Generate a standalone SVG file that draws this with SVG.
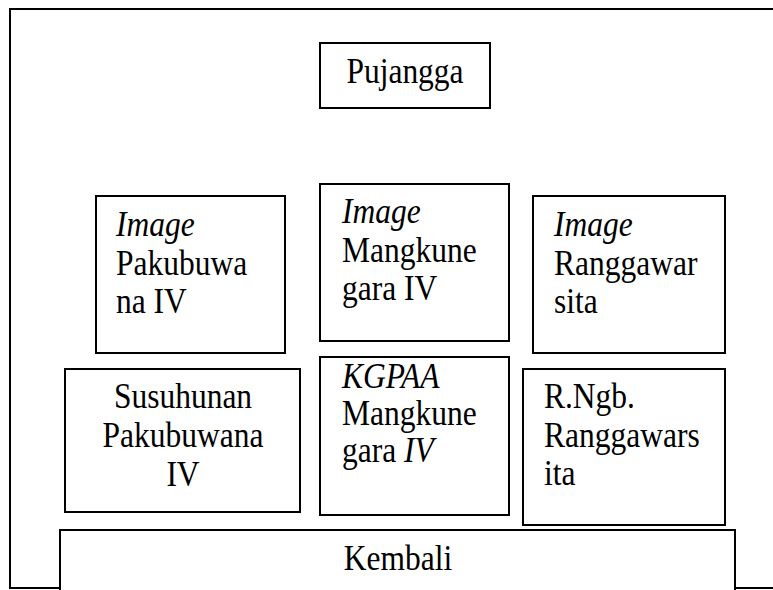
<svg xmlns="http://www.w3.org/2000/svg" width="773" height="590" viewBox="0 0 773 590">
  <style>
    .box { fill: #fff; stroke: #000; stroke-width: 2; }
    .line { fill: none; stroke: #000; stroke-width: 2; }
    text { font-family: "Liberation Serif", "Times New Roman", serif; font-size: 35px; fill: #000; }
    .c { text-anchor: middle; }
    .i { font-style: italic; }
  </style>
  <rect width="773" height="590" fill="#fff"/>

  <!-- page frame -->
  <g id="frame">
    <path class="line" d="M773,9 H10 V588 H60 M735,588 H773"/>
  </g>

  <!-- text is set slightly condensed: translate to the line start, then scale x -->
  <g id="pujangga">
    <rect class="box" x="320" y="43" width="170" height="65"/>
    <text class="c" transform="translate(405,0) scale(0.9,1)" x="0" y="83">Pujangga</text>
  </g>

  <g id="img-pakubuwana">
    <rect class="box" x="96" y="196" width="189" height="157"/>
    <text transform="translate(116,0) scale(0.9,1)"><tspan class="i" x="0" y="236">Image</tspan><tspan x="0" y="275">Pakubuwa</tspan><tspan x="0" y="313">na IV</tspan></text>
  </g>

  <g id="img-mangkunegara">
    <rect class="box" x="320" y="184" width="189" height="157"/>
    <text transform="translate(342,0) scale(0.9,1)"><tspan class="i" x="0" y="223">Image</tspan><tspan x="0" y="262">Mangkune</tspan><tspan x="0" y="300">gara IV</tspan></text>
  </g>

  <g id="img-ranggawarsita">
    <rect class="box" x="533" y="196" width="192" height="157"/>
    <text transform="translate(554,0) scale(0.9,1)"><tspan class="i" x="0" y="236">Image</tspan><tspan x="0" y="275">Ranggawar</tspan><tspan x="0" y="313">sita</tspan></text>
  </g>

  <g id="susuhunan">
    <rect class="box" x="65" y="369" width="235" height="143"/>
    <text class="c" transform="translate(183,0) scale(0.9,1)"><tspan x="0" y="408">Susuhunan</tspan><tspan x="0" y="447">Pakubuwana</tspan><tspan x="0" y="486">IV</tspan></text>
  </g>

  <g id="kgpaa">
    <rect class="box" x="320" y="357" width="189" height="158"/>
    <text transform="translate(342,0) scale(0.9,1)"><tspan class="i" x="0" y="388">KGPAA</tspan><tspan x="0" y="425">Mangkune</tspan><tspan x="0" y="462">gara <tspan class="i">IV</tspan></tspan></text>
  </g>

  <g id="rngb">
    <rect class="box" x="523" y="369" width="202" height="156"/>
    <text transform="translate(544,0) scale(0.9,1)"><tspan x="0" y="408">R.Ngb.</tspan><tspan x="0" y="447">Ranggawars</tspan><tspan x="0" y="485">ita</tspan></text>
  </g>

  <g id="kembali">
    <path class="line" d="M60,590 V530 H735 V590"/>
    <text class="c" transform="translate(398,0) scale(0.9,1)" x="0" y="570">Kembali</text>
  </g>

  <g id="connectors"></g>
</svg>
